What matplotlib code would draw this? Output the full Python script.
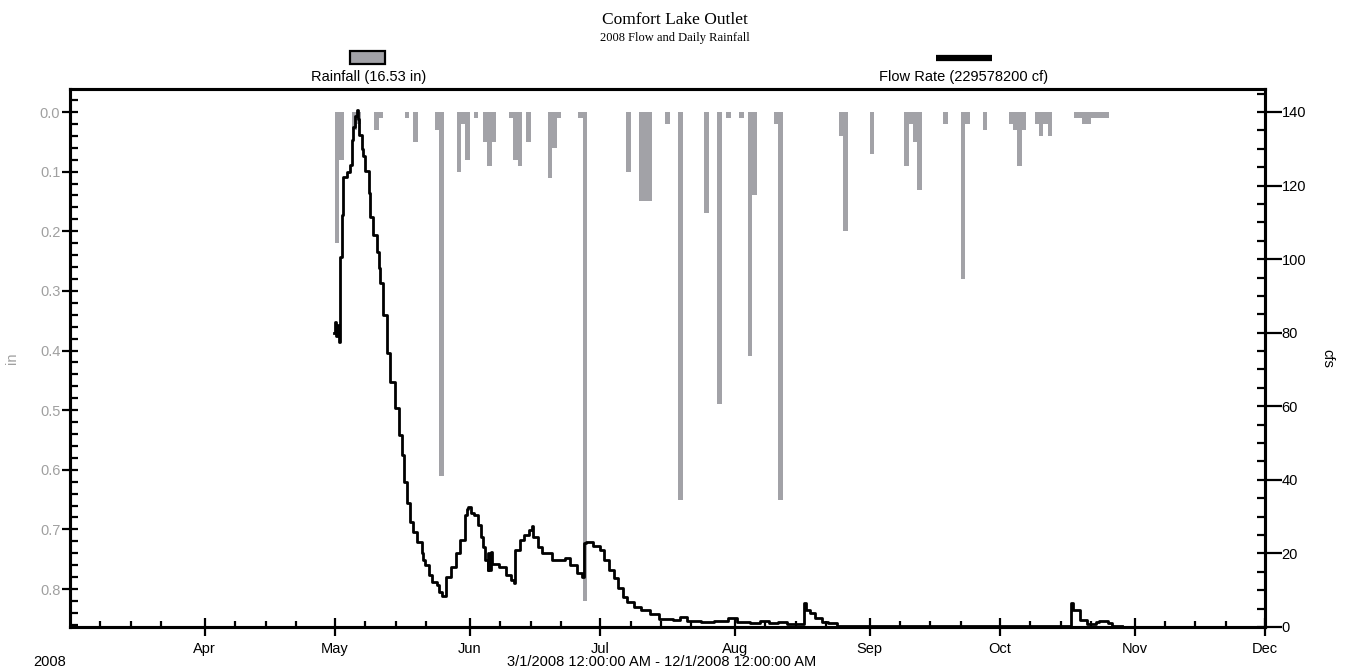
import matplotlib
matplotlib.use("Agg")
import matplotlib.pyplot as plt
import matplotlib.dates as mdates
import numpy as np
from matplotlib.patches import Rectangle
from matplotlib.lines import Line2D
from matplotlib.ticker import MultipleLocator, FormatStrFormatter

plt.rcParams['font.family'] = ['Liberation Sans Narrow', 'Liberation Sans', 'DejaVu Sans']

start = np.datetime64("2008-03-01")
end = np.datetime64("2008-12-01")

# daily rainfall (in)
rain_dates = ["2008-05-01", "2008-05-02", "2008-05-05", "2008-05-06", "2008-05-10", "2008-05-11",
              "2008-05-17", "2008-05-19", "2008-05-24", "2008-05-25", "2008-05-29", "2008-05-30",
              "2008-05-31", "2008-06-02", "2008-06-04", "2008-06-05", "2008-06-06", "2008-06-10",
              "2008-06-11", "2008-06-12", "2008-06-14", "2008-06-19", "2008-06-20", "2008-06-21",
              "2008-06-26", "2008-06-27", "2008-07-07", "2008-07-10", "2008-07-11", "2008-07-12",
              "2008-07-16", "2008-07-19", "2008-07-25", "2008-07-28", "2008-07-30", "2008-08-02",
              "2008-08-04", "2008-08-05", "2008-08-10", "2008-08-11", "2008-08-25", "2008-08-26",
              "2008-09-01", "2008-09-09", "2008-09-10", "2008-09-11", "2008-09-12", "2008-09-18",
              "2008-09-22", "2008-09-23", "2008-09-27", "2008-10-03", "2008-10-04", "2008-10-05",
              "2008-10-06", "2008-10-09", "2008-10-10", "2008-10-11", "2008-10-12", "2008-10-18",
              "2008-10-19", "2008-10-20", "2008-10-21", "2008-10-22", "2008-10-23", "2008-10-24",
              "2008-10-25"]
rain_in = [0.22, 0.08, 0.03, 0.02, 0.03, 0.01,
           0.01, 0.05, 0.03, 0.61, 0.10, 0.02,
           0.08, 0.01, 0.05, 0.09, 0.05, 0.01,
           0.08, 0.09, 0.05, 0.11, 0.06, 0.01,
           0.01, 0.82, 0.10, 0.15, 0.15, 0.15,
           0.02, 0.65, 0.17, 0.49, 0.01, 0.01,
           0.41, 0.14, 0.02, 0.65, 0.04, 0.20,
           0.07, 0.09, 0.02, 0.05, 0.13, 0.02,
           0.28, 0.02, 0.03, 0.02, 0.03, 0.09,
           0.03, 0.02, 0.04, 0.02, 0.04, 0.01,
           0.01, 0.02, 0.02, 0.01, 0.01, 0.01,
           0.01]

# flow rate (cfs), time in days after 3/1/2008
flow_day = [60.8, 61.0, 61.3, 61.6, 61.9, 62.1, 62.5, 62.9, 63.7, 64.4, 64.8, 65.2, 65.6, 66.0,
            66.2, 66.4, 67.1, 67.5, 67.9, 68.7, 69.0, 69.8, 70.6, 71.0, 71.3, 72.1, 72.9, 73.6,
            74.8, 75.6, 76.3, 76.9, 77.5, 78.3, 79.0, 79.8, 80.9, 81.3, 81.7, 82.5, 83.2, 84.4,
            85.0, 85.6, 86.6, 87.7, 88.8, 89.8, 90.9, 91.4, 91.7, 92.2, 93.0, 94.0, 94.5, 95.1,
            95.6, 96.1, 96.3, 96.5, 96.9, 97.2, 98.8, 100.3, 101.4, 102.2, 102.4, 103.5, 104.5,
            105.6, 106.4, 106.6, 107.7, 108.7, 110.9, 114.0, 115.1, 116.6, 117.9, 118.2, 118.8,
            120.3, 121.9, 123.0, 124.0, 125.1, 126.1, 127.2, 128.2, 129.8, 131.4, 133.5, 135.6,
            138.8, 140.3, 141.9, 145.1, 148.2, 151.4, 153.5, 156.6, 158.8, 160.9, 163.0, 165.1,
            168.8, 169.3, 170.3, 171.4, 173.0, 174.5, 176.6, 230.3, 230.9, 232.5, 234.1, 236.2,
            236.7, 238.8, 239.9, 242.0]
flow_cfs = [80, 83, 79, 82, 77.5, 100.7, 112, 122.4, 123.8, 125.6, 132.4, 136, 139, 140.5,
            138, 133.7, 130, 128, 124, 118, 111.5, 106.5, 102, 97.6, 93.5, 84.8, 74.5, 66.6,
            59.5, 52.2, 46.8, 39.4, 33.7, 28.5, 25.8, 23.1, 20.1, 18.2, 16.9, 14.1, 12.2, 11.4,
            9.5, 8.5, 13.6, 16.3, 20.0, 23.6, 30.4, 32.0, 32.5, 31.0, 30.4, 27.7, 24.5, 21.7,
            18.2, 15.5, 20.1, 15.5, 20.4, 17.1, 16.3, 14.1, 12.8, 12.0, 20.9, 23.6, 25.0,
            26.4, 27.5, 24.5, 21.7, 20.1, 18.2, 18.8, 16.9, 14.7, 13.5, 22.8, 23.1,
            22.0, 20.9, 18.2, 15.5, 13.3, 10.6, 8.2, 6.8, 5.4, 4.6, 3.5, 2.2,
            1.9, 2.7, 1.6, 1.4, 1.6, 2.4, 1.4, 1.1, 1.6, 1.1, 1.4, 0.8,
            6.5, 4.6, 3.8, 2.4, 1.4, 1.1, 0.3, 6.5, 4.6, 1.9, 0.8, 1.4,
            1.6, 1.1, 0.4, 0.4]

title = "Comfort Lake Outlet"
subtitle = "2008 Flow and Daily Rainfall"
rain_label = "Rainfall (16.53 in)"
flow_label = "Flow Rate (229578200 cf)"
range_label = "3/1/2008 12:00:00 AM - 12/1/2008 12:00:00 AM"

rain_x = np.array(rain_dates, dtype="datetime64[D]")
flow_x = start + (np.array(flow_day) * 1440).astype("timedelta64[m]")

fig = plt.figure(figsize=(13.49, 6.72), dpi=100)
ax = fig.add_axes([70 / 1349, 1 - 627 / 672, 1195 / 1349, 538 / 672])
ax2 = ax.twinx()

bar_gray = "#a2a2a7"
label_gray = "#a0a0a0"
fs = 10.5

ax.bar(rain_x, rain_in, width=1.0, align="edge", color=bar_gray, linewidth=0)
ax.set_ylim(0.8637, -0.0386)
ax.set_xlim(start, end)

ax2.step(flow_x, flow_cfs, where="post", color="black", lw=2.0)
ax2.set_ylim(0, 146.25)

# x axis
ax.xaxis.set_major_locator(mdates.MonthLocator(bymonth=range(4, 13)))
ax.xaxis.set_major_formatter(mdates.DateFormatter("%b"))
ax.xaxis.set_minor_locator(mdates.DayLocator(bymonthday=[8, 15, 22]))
ax.tick_params(axis="x", which="major", direction="inout", length=13, width=1.6,
               labelsize=fs, pad=4)
ax.tick_params(axis="x", which="minor", direction="in", length=4, width=1.6)

# left axis (rain)
ax.yaxis.set_major_locator(MultipleLocator(0.1))
ax.yaxis.set_minor_locator(MultipleLocator(0.02))
ax.yaxis.set_major_formatter(FormatStrFormatter("%.1f"))
ax.yaxis.remove_overlapping_locs = False
ax.tick_params(axis="y", which="major", direction="out", length=6, width=1.6,
               labelsize=fs, labelcolor=label_gray, pad=1)
ax.tick_params(axis="y", which="minor", direction="in", length=6, width=1.6)
ax.set_ylabel("in", color=label_gray, fontsize=fs, labelpad=15)

# right axis (flow)
ax2.yaxis.set_major_locator(MultipleLocator(20))
ax2.yaxis.set_minor_locator(MultipleLocator(5))
ax2.yaxis.remove_overlapping_locs = False
ax2.tick_params(axis="y", which="major", direction="out", length=12, width=1.6,
                labelsize=fs, pad=0)
ax2.tick_params(axis="y", which="minor", direction="in", length=6, width=1.6)
ax2.set_ylabel("cfs", fontsize=fs, rotation=270, labelpad=20)

for a in (ax, ax2):
    for s in a.spines.values():
        s.set_linewidth(2.2)

# titles
fig.text(0.5, 1 - 20 / 672, title, ha="center", va="center",
         family="Liberation Serif", fontsize=12.5)
fig.text(0.5, 1 - 38 / 672, subtitle, ha="center", va="center",
         family="Liberation Serif", fontsize=9)

# legend
fig.patches.append(Rectangle((350 / 1349, 1 - 64 / 672), 35 / 1349, 13 / 672,
                             transform=fig.transFigure, facecolor=bar_gray,
                             edgecolor="black", linewidth=1.6))
fig.lines.append(Line2D([936 / 1349, 992 / 1349], [1 - 58 / 672, 1 - 58 / 672],
                        transform=fig.transFigure, color="black", linewidth=4.5,
                        solid_capstyle="butt"))
fig.text(369 / 1349, 1 - 77 / 672, rain_label, ha="center", va="center", fontsize=fs)
fig.text(964 / 1349, 1 - 77 / 672, flow_label, ha="center", va="center", fontsize=fs)

# bottom texts
fig.text(50 / 1349, 1 - 662 / 672, "2008", ha="center", va="center", fontsize=fs)
fig.text(662 / 1349, 1 - 662 / 672, range_label, ha="center", va="center", fontsize=fs)

fig.savefig("out.png", dpi=100)
